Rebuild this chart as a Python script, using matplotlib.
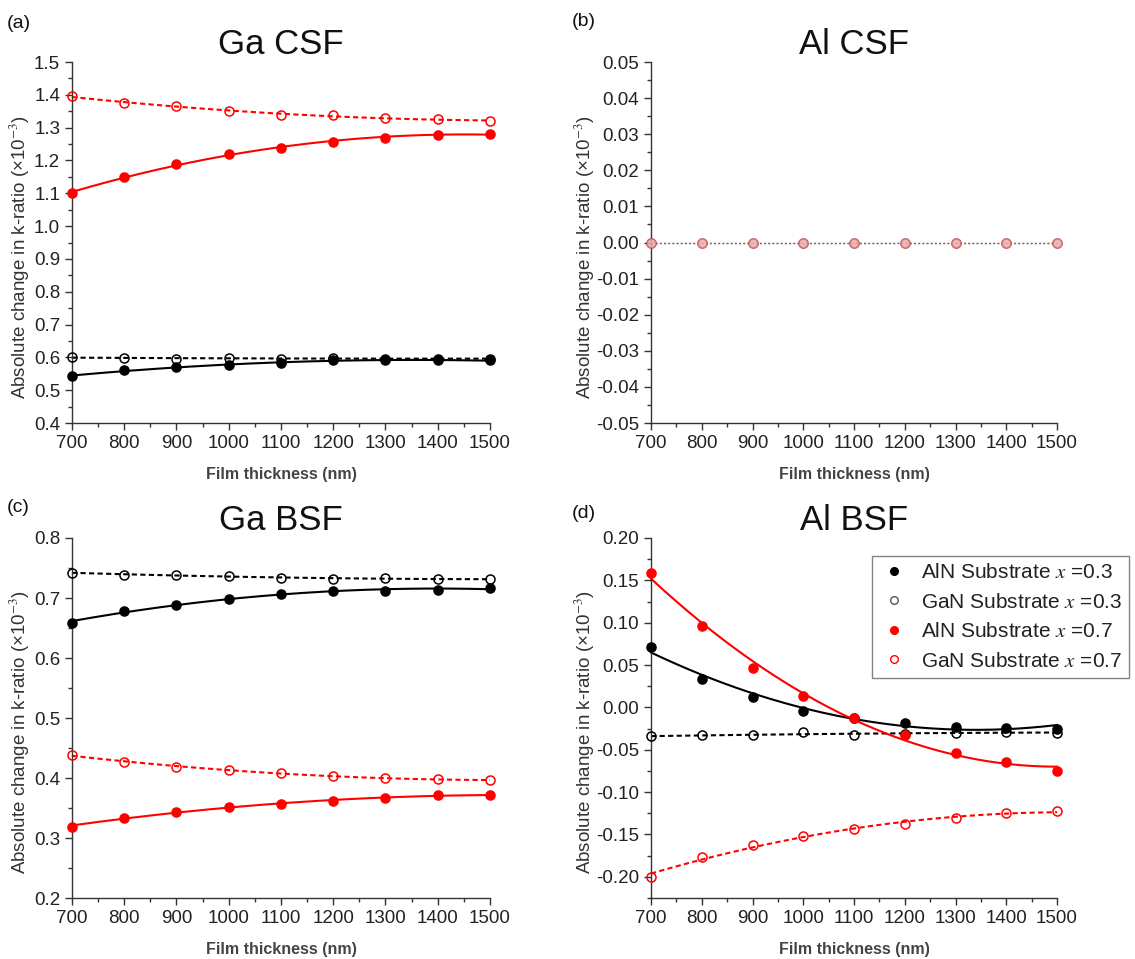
import matplotlib
matplotlib.use("Agg")
import matplotlib.pyplot as plt
from matplotlib.ticker import MultipleLocator, FixedLocator, FuncFormatter
from matplotlib.lines import Line2D
import numpy as np

plt.rcParams["font.family"] = ["Liberation Sans", "DejaVu Sans"]
plt.rcParams["mathtext.fontset"] = "stix"
plt.rcParams["axes.unicode_minus"] = False

thickness = [700, 800, 900, 1000, 1100, 1200, 1300, 1400, 1500]

# (a) Ga CSF
ga_csf_aln_03 = [0.542, 0.562, 0.570, 0.578, 0.583, 0.591, 0.591, 0.591, 0.591]
ga_csf_gan_03 = [0.600, 0.598, 0.596, 0.598, 0.596, 0.598, 0.596, 0.596, 0.596]
ga_csf_aln_07 = [1.100, 1.149, 1.190, 1.221, 1.238, 1.257, 1.269, 1.278, 1.282]
ga_csf_gan_07 = [1.396, 1.375, 1.366, 1.350, 1.338, 1.339, 1.331, 1.326, 1.319]

# (b) Al CSF
al_csf_aln_03 = [0.0, 0.0, 0.0, 0.0, 0.0, 0.0, 0.0, 0.0, 0.0]
al_csf_gan_03 = [0.0, 0.0, 0.0, 0.0, 0.0, 0.0, 0.0, 0.0, 0.0]
al_csf_aln_07 = [0.0, 0.0, 0.0, 0.0, 0.0, 0.0, 0.0, 0.0, 0.0]
al_csf_gan_07 = [0.0, 0.0, 0.0, 0.0, 0.0, 0.0, 0.0, 0.0, 0.0]

# (c) Ga BSF
ga_bsf_aln_03 = [0.659, 0.679, 0.688, 0.699, 0.706, 0.712, 0.712, 0.714, 0.717]
ga_bsf_gan_03 = [0.742, 0.739, 0.738, 0.737, 0.733, 0.732, 0.733, 0.732, 0.731]
ga_bsf_aln_07 = [0.319, 0.334, 0.344, 0.351, 0.357, 0.362, 0.367, 0.371, 0.372]
ga_bsf_gan_07 = [0.438, 0.427, 0.419, 0.413, 0.408, 0.403, 0.400, 0.398, 0.396]

# (d) Al BSF
al_bsf_aln_03 = [0.071, 0.034, 0.012, -0.004, -0.012, -0.018, -0.023, -0.024, -0.025]
al_bsf_gan_03 = [-0.034, -0.033, -0.033, -0.029, -0.033, -0.031, -0.030, -0.029, -0.030]
al_bsf_aln_07 = [0.159, 0.096, 0.047, 0.013, -0.012, -0.033, -0.054, -0.064, -0.075]
al_bsf_gan_07 = [-0.200, -0.176, -0.163, -0.152, -0.143, -0.138, -0.131, -0.125, -0.122]

legend_labels = [
    "AlN Substrate $x$ =0.3",
    "GaN Substrate $x$ =0.3",
    "AlN Substrate $x$ =0.7",
    "GaN Substrate $x$ =0.7",
]

RED = "#ff0000"
BLACK = "#000000"
TXT = "#222222"
W, H = 1135, 959


def fit_line(ax, x, y, color, ls, alpha=1.0, lw=1.5):
    # polynomial trend line through the points, as in the original figure
    coef = np.polyfit(x, y, 2)
    xs = np.linspace(min(x), max(x), 200)
    ax.plot(xs, np.polyval(coef, xs), color=color, ls=ls, lw=lw, alpha=alpha,
            clip_on=False, zorder=2)


def draw_series(ax, y, color, filled, ls, alpha=1.0, lw=1.5, mfc=None):
    if ls != "none":
        fit_line(ax, thickness, y, color, ls, alpha, lw)
    if mfc is None:
        mfc = color if filled else "none"
    ax.plot(thickness, y, ls="none", marker="o", ms=6.5,
            mfc=mfc, mec=color, mew=1.1,
            alpha=alpha, clip_on=False, zorder=3)


def style_axes(ax, title, tag, tag_xy, ylim, major, minor, ndig, ylab_x):
    ax.set_xlim(700, 1500)
    ax.set_ylim(*ylim)
    ax.spines["top"].set_visible(False)
    ax.spines["right"].set_visible(False)
    for s in ("left", "bottom"):
        ax.spines[s].set_color("#333333")
        ax.spines[s].set_linewidth(1.0)
    ax.xaxis.set_major_locator(MultipleLocator(100))
    ax.xaxis.set_minor_locator(MultipleLocator(50))
    ax.yaxis.set_major_locator(MultipleLocator(major))
    ax.yaxis.set_minor_locator(MultipleLocator(minor))
    ax.yaxis.set_major_formatter(
        FuncFormatter(lambda v, p: f"{round(v, ndig) + 0.0:.{ndig}f}"))
    ax.tick_params(which="major", direction="out", length=5, width=1,
                   labelsize=13.5, colors="#333333", labelcolor=TXT)
    ax.tick_params(which="minor", direction="out", length=3, width=1,
                   colors="#333333")
    ax.set_xlabel("Film thickness (nm)", fontsize=11.5, fontweight="bold",
                  color="#444444", labelpad=11)
    ax.set_ylabel("Absolute change in k-ratio (×10$^{-3}$)", fontsize=13.5,
                  color="#333333")
    ax.yaxis.set_label_coords(ylab_x, 0.46)
    ax.set_title(title, fontsize=25, color="#111111", pad=6)
    fig.text(tag_xy[0] / W, 1 - tag_xy[1] / H, tag, fontsize=14,
             color="#111111", va="center", ha="left")


fig = plt.figure(figsize=(W / 100, H / 100), dpi=100)

ax_a = fig.add_axes([0.0634, 0.5589, 0.3683, 0.3764])
ax_b = fig.add_axes([0.5736, 0.5589, 0.3577, 0.3764])
ax_c = fig.add_axes([0.0634, 0.0636, 0.3683, 0.3754])
ax_d = fig.add_axes([0.5736, 0.0636, 0.3577, 0.3754])

panels = [
    (ax_a, [ga_csf_aln_03, ga_csf_gan_03, ga_csf_aln_07, ga_csf_gan_07]),
    (ax_c, [ga_bsf_aln_03, ga_bsf_gan_03, ga_bsf_aln_07, ga_bsf_gan_07]),
    (ax_d, [al_bsf_aln_03, al_bsf_gan_03, al_bsf_aln_07, al_bsf_gan_07]),
]
dash = (0, (2.5, 1.6))
for ax, series in panels:
    draw_series(ax, series[1], BLACK, False, dash)
    draw_series(ax, series[0], BLACK, True, "-")
    draw_series(ax, series[3], RED, False, dash)
    draw_series(ax, series[2], RED, True, "-")

# Al CSF: all four series sit on zero and overlap
dot = (0, (1.5, 1.5))
draw_series(ax_b, al_csf_aln_03, BLACK, True, dot, alpha=0.12, lw=1.0)
draw_series(ax_b, al_csf_gan_03, BLACK, False, dot, alpha=0.5, lw=1.0)
draw_series(ax_b, al_csf_aln_07, RED, True, dot, alpha=0.15, lw=1.0)
draw_series(ax_b, al_csf_gan_07, "#e07070", False, "none", alpha=0.8,
            mfc="#f2b8b8")

style_axes(ax_a, "Ga CSF", "(a)", (7, 24), (0.4, 1.5), 0.1, 0.05, 1, -0.096)
style_axes(ax_b, "Al CSF", "(b)", (572, 22), (-0.05, 0.05), 0.01, 0.005, 2,
           -0.133)
style_axes(ax_c, "Ga BSF", "(c)", (7, 508), (0.2, 0.8), 0.1, 0.05, 1, -0.096)
style_axes(ax_d, "Al BSF", "(d)", (572, 514), (-0.225, 0.20), 0.05, 0.025, 2,
           -0.133)
ax_d.yaxis.set_major_locator(FixedLocator(np.arange(-0.20, 0.201, 0.05)))

handles = [
    Line2D([], [], ls="none", marker="o", ms=5.5, mfc=BLACK, mec=BLACK),
    Line2D([], [], ls="none", marker="o", ms=5.5, mfc="none", mec="#555555"),
    Line2D([], [], ls="none", marker="o", ms=5.5, mfc=RED, mec=RED),
    Line2D([], [], ls="none", marker="o", ms=5.5, mfc="none", mec=RED),
]
leg = fig.legend(handles, legend_labels, loc="upper left",
                 bbox_to_anchor=(872 / W, 1 - 556 / H),
                 fontsize=15, frameon=True, fancybox=False,
                 edgecolor="#666666", handletextpad=0.6, handlelength=1.4,
                 labelspacing=0.5, borderpad=0.35, borderaxespad=0.0)
leg.get_frame().set_linewidth(1.0)
for t in leg.get_texts():
    t.set_color(TXT)

fig.savefig("out.png", dpi=100)
